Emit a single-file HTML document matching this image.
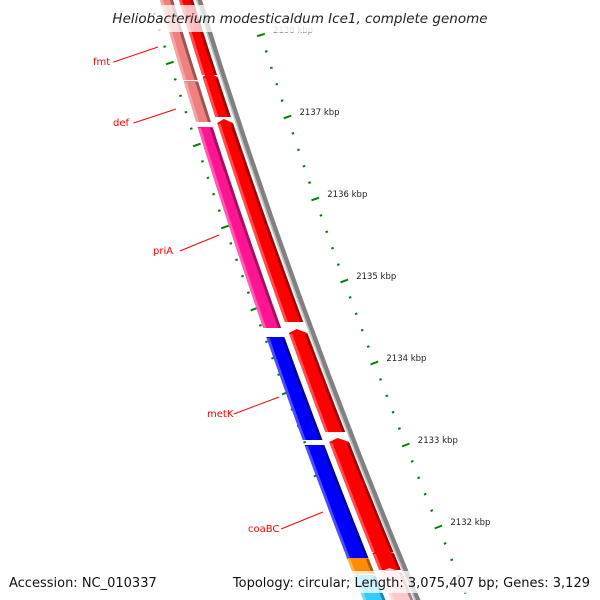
<!DOCTYPE html>
<html><head><meta charset="utf-8"><style>
html,body{margin:0;padding:0;background:#fff;}
svg{display:block;font-family:"DejaVu Sans","Liberation Sans",sans-serif;}
</style></head><body>
<svg id="map" width="600" height="600" viewBox="0 0 600 600" xmlns="http://www.w3.org/2000/svg">
<g id="ticksL"></g>
<g id="ticksR"></g>
<g id="backbone"></g>
<g id="genes"></g>
<g id="labels"></g>
<g>
<rect x="100" y="5" width="400" height="27" fill="#fff" opacity="0.75"/>
<text x="300" y="23" text-anchor="middle" font-size="13.5" font-style="italic" fill="#222">Heliobacterium modesticaldum Ice1, complete genome</text>
</g>
<g>
<rect x="0" y="571" width="600" height="22" fill="#fff" opacity="0.75"/>
<text x="9" y="587" font-size="13" fill="#111">Accession: NC_010337</text>
<text x="590" y="587" text-anchor="end" font-size="13" fill="#111">Topology: circular; Length: 3,075,407 bp; Genes: 3,129</text>
</g>
</svg>
<script>
// data
const kbpLabels=[2138,2137,2136,2135,2134,2133,2132];
const fwdGenes=[[-20,75,"#ff0000",false],[77,117,"#ff0000",true],[123,322,"#ff0000",true],[333,432,"#ff0000",true],[442,552,"#ff0000",true],[553,570,"#ff0000",true],[572,620,"#ffc8c8",true]];
const revGenes=[[-20,80,"#f08080"],[81,122,"#f08080"],[127,328,"#ff1493"],[337,440,"#0000ff"],[445,558,"#0000ff"],[558,574,"#ff8c00"],[575,620,"#33ccff"]];
const geneNames=["fmt","def","priA","metK","coaBC"];
const geneLabelPos=[[93,61,158,47],[113,122,176,109],[153,250,219,235],[207,413,279,397],[248,528,323,512]];

const NS="http://www.w3.org/2000/svg";
function f(y){return 200+0.31*y+0.00009*y*y;}
function lerp(a,b,y){return a+(b-a)*y/600;}
function off(t,y){return lerp(t[0],t[1],y);}
const RED1=[-21,-27],RED2=[-7,-5],REV1=[-40,-55],REV2=[-27,-33];
function band(o1,o2,y1,y2){
  let p=[];
  for(let y=y1;y<=y2;y+=Math.max(1,(y2-y1)/8))p.push([f(y)+off(o1,y),y]);
  p.push([f(y2)+off(o1,y2),y2]);
  p.push([f(y2)+off(o2,y2),y2]);
  for(let y=y2;y>=y1;y-=Math.max(1,(y2-y1)/8))p.push([f(y)+off(o2,y),y]);
  p.push([f(y1)+off(o2,y1),y1]);
  return p;
}
function poly(g,pts,fill,name){
  const e=document.createElementNS(NS,"polygon");
  e.setAttribute("points",pts.map(p=>p[0].toFixed(1)+","+p[1].toFixed(1)).join(" "));
  e.setAttribute("fill",fill);
  
  
  g.appendChild(e);return e;
}
function shade(c,k){
  const n=parseInt(c.slice(1),16);let r=n>>16,g=(n>>8)&255,b=n&255;
  if(k<0){r*=1+k;g*=1+k;b*=1+k;}else{r+=(255-r)*k;g+=(255-g)*k;b+=(255-b)*k;}
  return "rgb("+[r,g,b].map(v=>Math.round(v)).join(",")+")";
}
// backbone
const bb=document.getElementById("backbone");
poly(bb,band([-4,-4],[2,2],-10,610),"#808080","backbone-line");
poly(bb,band([-4,-4],[-2.5,-2.5],-10,610),"#c0c0c0","backbone-highlight");
// genes
const gg=document.getElementById("genes");
function drawGene(o1,o2,y1,y2,c,arrow,name){
  const p=band(o1,o2,y1,y2);
  if(arrow){
    // pointed top
    const mid=[(o1[0]+o2[0])/2,(o1[1]+o2[1])/2];
    const tip=[f(y1-4)+off(mid,y1),y1-4];
    p.push(tip);
  }
  poly(gg,p,c,name);
  const w1=[o2[0]-3,o2[1]-3];
  poly(gg,band(w1,o2,y1+1,y2),shade(c,-0.35),name+"-shadow");
  const l2=[o1[0]+3,o1[1]+3];
  poly(gg,band(o1,l2,y1+1,y2),shade(c,0.3),name+"-highlight");
}
fwdGenes.forEach((g,i)=>drawGene(RED1,RED2,g[0],g[1],g[2],g[3],"forward-gene-"+i));
revGenes.forEach((g,i)=>drawGene(REV1,REV2,g[0],g[1],g[2],false,"reverse-gene-"+i));
// rulers
function tick(g,x,y,len,name){
  const e=document.createElementNS(NS,"line");
  const s=0.31+0.00018*y;const n=Math.hypot(1,s);
  // radial direction ~ perpendicular to track
  const dx=1/n*len/2,dy=-s/n*len/2;
  e.setAttribute("x1",(x-dx).toFixed(1));e.setAttribute("y1",(y-dy).toFixed(1));
  e.setAttribute("x2",(x+dx).toFixed(1));e.setAttribute("y2",(y+dy).toFixed(1));
  e.setAttribute("stroke","#008000");e.setAttribute("stroke-width","2");
  
  
  g.appendChild(e);
}
const tR=document.getElementById("ticksR"),tL=document.getElementById("ticksL");
const pxPerKbp=82;
kbpLabels.forEach((k,i)=>{
  const y=35+(kbpLabels[0]-k)*pxPerKbp;
  tick(tR,f(y)+50,y,8,"major-tick-"+k);
  for(let m=1;m<5;m++){const yy=y+m*pxPerKbp/5;tick(tR,f(yy)+50,yy,2.5,"minor-tick");}
  const t=document.createElementNS(NS,"text");
  t.setAttribute("x",(f(y)+62).toFixed(1));t.setAttribute("y",(y-2).toFixed(1));
  t.setAttribute("font-size","8.5");t.setAttribute("fill",i==0?"#888":"#222");
  t.textContent=k+" kbp";
  
  
  tR.appendChild(t);
  const yl=63+i*pxPerKbp+ (i>3?2:0);
  tick(tL,f(yl)-50,yl,8,"inner-major-tick");
  for(let m=-4;m<5;m++){if(m==0)continue;const yy=yl+m*pxPerKbp/5;if(m<0&&i>0)continue;if(yy<0)continue;tick(tL,f(yy)-50,yy,2.5,"inner-minor-tick");}
});
// labels
const lg=document.getElementById("labels");
geneNames.forEach((n,i)=>{
  const p=geneLabelPos[i];
  const t=document.createElementNS(NS,"text");
  t.setAttribute("x",p[0]);t.setAttribute("y",p[1]+4);t.setAttribute("font-size","10");t.setAttribute("fill","#f00");
  t.textContent=n;
  
  
  lg.appendChild(t);
  const w=n.length*6.2+2;
  const l=document.createElementNS(NS,"line");
  l.setAttribute("x1",p[0]+w);l.setAttribute("y1",p[1]+1);l.setAttribute("x2",p[2]);l.setAttribute("y2",p[3]);
  l.setAttribute("stroke","#f00");l.setAttribute("stroke-width","1");
  
  
  lg.appendChild(l);
});
</script>
</body></html>
